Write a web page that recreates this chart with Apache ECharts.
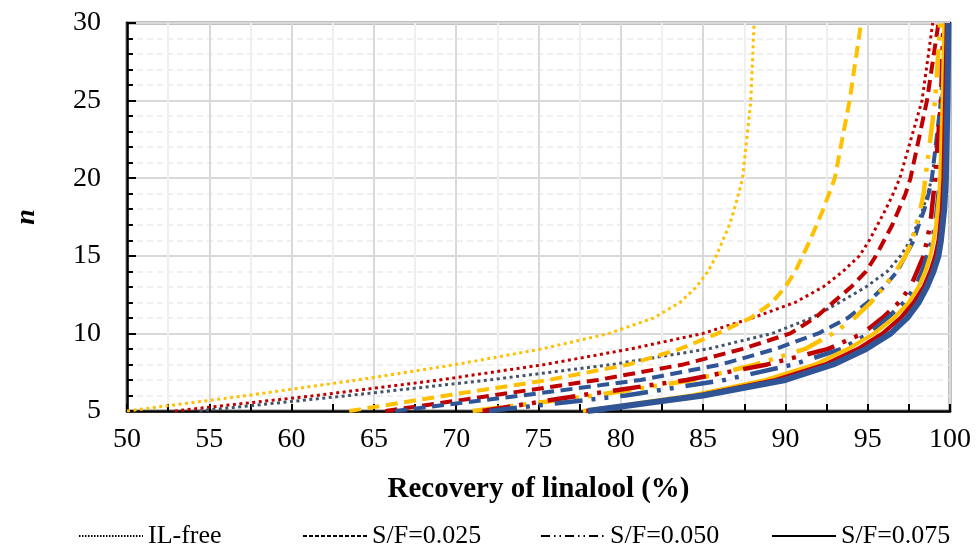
<!DOCTYPE html>
<html>
<head>
<meta charset="utf-8">
<script src="https://cdn.jsdelivr.net/npm/echarts@6/dist/echarts.min.js"></script>
<style>
html,body{margin:0;padding:0;background:#fff;}
#chart{width:976px;height:547px;}
</style>
</head>
<body>
<div id="chart"></div>
<script>
// stage numbers
const stages = [5,6,7,8,9,10,11,12,13,14,15,16,17,18,19,20,25,30];

// IL-free (dotted)
const ilFreeYellow = [50.0,57.3,64.0,70.0,75.2,79.3,82.0,83.6,84.6,85.3,85.8,86.2,86.6,86.9,87.15,87.4,87.9,88.1];
const ilFreeRed    = [52.9,61.5,69.0,75.4,80.6,85.0,88.0,90.6,92.3,93.5,94.5,95.1,95.6,96.1,96.55,96.95,98.3,98.95];
const ilFreeSlate  = [54.4,63.5,72.0,79.5,85.3,89.2,91.6,93.3,94.9,96.2,97.0,97.6,98.0,98.35,98.65,98.9,99.5,99.8];

// S/F = 0.025 (dashed)
const sf025Yellow = [63.5,69.4,75.6,80.5,83.6,85.9,87.9,89.2,90.0,90.6,91.05,91.5,91.9,92.3,92.65,93.0,93.9,94.6];
const sf025Red    = [65.7,72.2,78.6,83.8,87.4,90.3,91.8,92.9,94.0,94.9,95.5,96.0,96.5,96.9,97.3,97.6,98.6,99.3];
const sf025Blue   = [66.3,74.0,81.2,86.1,89.4,92.0,93.8,95.0,96.0,96.8,97.3,97.8,98.1,98.45,98.7,98.9,99.45,99.75];

// S/F = 0.050 (dash-dot-dot)
const sf050Yellow = [71.0,78.4,84.4,88.2,91.2,92.9,94.2,95.2,96.0,96.7,97.3,97.7,97.95,98.2,98.4,98.5,99.1,99.4];
const sf050Red    = [71.6,77.5,84.0,88.9,92.6,94.7,95.9,96.9,97.6,98.0,98.4,98.6,98.8,98.9,99.0,99.1,99.45,99.6];
const sf050Blue   = [72.0,80.3,86.3,90.5,93.4,95.1,96.2,97.2,97.9,98.3,98.6,98.9,99.1,99.2,99.3,99.4,99.6,99.75];

// S/F = 0.075 (solid)
const sf075Yellow = [77.7,84.3,88.8,91.8,93.8,95.4,96.6,97.5,98.1,98.5,98.8,99.0,99.15,99.25,99.35,99.4,99.55,99.65];
const sf075Red    = [77.9,84.7,89.4,92.4,94.4,95.9,97.0,97.8,98.4,98.8,99.1,99.3,99.4,99.5,99.55,99.6,99.7,99.8];
const sf075Blue   = [78.0,85.0,90.0,92.9,94.9,96.4,97.4,98.1,98.6,99.0,99.3,99.45,99.55,99.65,99.7,99.75,99.85,99.9];

const legendNames = ['IL-free','S/F=0.025','S/F=0.050','S/F=0.075'];

const YEL = '#FFC000', RED = '#C00000', SLATE = '#44546A', BLUE = '#2F5597';
const DOT = [3, 3.5];
const DASH = [12, 6.5];
const DDOT = [28, 9, 4, 9, 4, 12];

function pts(vals){ return vals.map((v,i)=>[v, stages[i]]); }
function mk(vals, color, type, width){
  return { type:'line', data: pts(vals), showSymbol:false, symbol:'none', silent:true,
    lineStyle:{ color, width, type, cap:'butt' }, z:3 };
}
function legendSeries(name, type){
  return { name, type:'line', data:[], symbol:'none', showSymbol:false,
    itemStyle:{color:'#000'}, lineStyle:{ color:'#000', width:1.5, type } };
}

const series = [
  mk(ilFreeYellow, YEL, DOT, 3),
  mk(ilFreeRed, RED, DOT, 3),
  mk(ilFreeSlate, SLATE, DOT, 3),
  mk(sf025Yellow, YEL, DASH, 4),
  mk(sf025Red, RED, DASH, 4),
  mk(sf025Blue, BLUE, DASH, 4),
  mk(sf050Yellow, YEL, DDOT, 4.5),
  mk(sf050Red, RED, DDOT, 4.5),
  mk(sf050Blue, BLUE, DDOT, 4.5),
  mk(sf075Yellow, YEL, 'solid', 4),
  mk(sf075Red, RED, 'solid', 4),
  mk(sf075Blue, BLUE, 'solid', 6),
  legendSeries(legendNames[0], [1.5,1.5]),
  legendSeries(legendNames[1], [4,2]),
  legendSeries(legendNames[2], [9,4,1.5,4,1.5,4]),
  legendSeries(legendNames[3], 'solid')
];

const FONT = 'Liberation Serif';
const legendLefts = [73, 297, 535, 766];
const legends = legendNames.map((nm, i) => ({
  data:[nm], left:legendLefts[i], top:518, itemWidth:64, itemHeight:12, itemGap:6,
  itemStyle:{ opacity:0 },
  textStyle:{ fontFamily:FONT, fontSize:26, color:'#000' }
}));

const chart = echarts.init(document.getElementById('chart'), null, {renderer:'canvas'});
chart.setOption({
  animation:false,
  backgroundColor:'#fff',
  grid:{ left:127, right:26, top:23, bottom:136, show:true, borderColor:'#000', borderWidth:2.5, backgroundColor:'transparent' },
  legend: legends,
  xAxis:{
    type:'value', min:50, max:100, interval:2.5,
    name:'Recovery of linalool (%)', nameLocation:'middle', nameGap:64,
    nameTextStyle:{ fontFamily:FONT, fontSize:29, fontWeight:'bold', color:'#000' },
    axisLine:{ show:true, lineStyle:{ color:'#000', width:2.5 } },
    axisTick:{ show:true, inside:true, length:7, lineStyle:{ color:'#000', width:2 } },
    axisLabel:{ fontFamily:FONT, fontSize:28, color:'#000', margin:15,
      formatter:v => (Math.abs(v % 5) < 1e-6 ? String(v) : '') },
    splitLine:{ show:true, lineStyle:{ color:['#d9d9d9','#efefef'], width:2 } }
  },
  yAxis:{
    type:'value', min:5, max:30, interval:5,
    name:'n', nameLocation:'middle', nameGap:86, nameRotate:90,
    nameTextStyle:{ fontFamily:FONT, fontSize:28, fontWeight:'bold', fontStyle:'italic', color:'#000' },
    axisLine:{ show:true, lineStyle:{ color:'#000', width:2.5 } },
    axisTick:{ show:true, inside:true, length:9, lineStyle:{ color:'#000', width:2 } },
    minorTick:{ show:true, splitNumber:5, length:6, lineStyle:{ color:'#000', width:2 } },
    axisLabel:{ fontFamily:FONT, fontSize:28, color:'#000', margin:26 },
    splitLine:{ show:true, lineStyle:{ color:'#d9d9d9', width:2 } },
    minorSplitLine:{ show:true, lineStyle:{ color:'#ebebeb', width:1.5, type:[6,4] } }
  },
  series
});
</script>
</body>
</html>
